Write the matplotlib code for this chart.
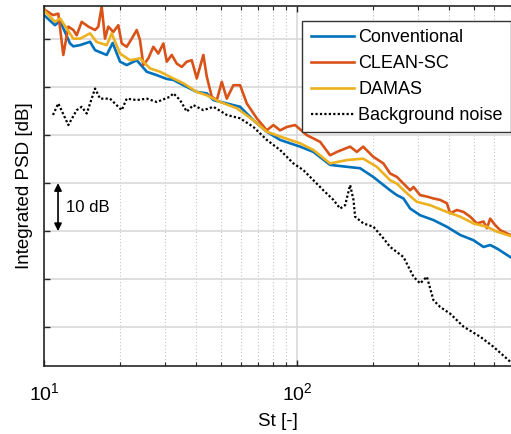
import matplotlib
matplotlib.use("Agg")
import matplotlib.pyplot as plt
from matplotlib.ticker import LogLocator, NullFormatter, FixedLocator

plt.rcParams['font.family'] = ['Liberation Sans', 'DejaVu Sans']
plt.rcParams['mathtext.fontset'] = 'custom'
plt.rcParams['mathtext.rm'] = 'Liberation Sans'

# datos (St, dB relativos)
conv_st = [10.0, 11.05, 11.57, 12.67, 13.06, 13.88, 15.20, 15.91, 17.69, 18.68, 19.97, 21.22, 23.25,
           25.47, 27.89, 30.55, 32.44, 35.53, 40.14, 43.96, 46.69, 52.74, 59.53, 67.19, 75.91, 85.66,
           102.8, 116.0, 135.0, 157.2, 177.4, 199.8, 233.1, 247.8, 263.2, 279.7, 306.3, 345.8, 390.6,
           440.9, 497.7, 545.1, 579.3, 615.5, 695.1]
conv_db = [5.0, 2.9, 3.8, -0.9, -1.5, -1.25, -0.55, -2.3, -3.3, -0.8, -4.7, -5.4, -4.4,
           -6.8, -7.5, -8.3, -8.5, -9.6, -11.0, -11.3, -12.7, -13.4, -14.1, -16.9, -19.3, -21.0,
           -22.4, -23.5, -26.2, -26.6, -26.9, -28.7, -31.5, -32.5, -33.2, -35.3, -36.7, -37.7, -39.1,
           -40.8, -41.9, -43.3, -42.9, -43.6, -45.4]

clean_st = [10.0, 10.85, 11.39, 11.92, 12.48, 13.06, 13.46, 14.09, 14.97, 15.91, 16.39, 16.90, 17.42,
            17.95, 18.79, 19.66, 20.28, 21.22, 22.22, 23.25, 23.95, 24.69, 25.84, 27.04, 28.30, 29.62,
            30.55, 31.97, 33.46, 35.02, 36.64, 38.35, 40.14, 42.62, 43.96, 46.01, 48.16, 50.40, 52.74,
            56.01, 59.53, 63.27, 69.30, 75.91, 80.60, 85.66, 91.06, 98.2, 109.2, 123.3, 135.0, 143.6,
            162.0, 172.2, 182.4, 199.8, 219.3, 233.1, 247.8, 263.2, 279.7, 288.3, 306.3, 325.6, 345.8,
            367.5, 390.6, 402.5, 427.8, 454.4, 483.0, 513.3, 545.1, 562.1, 579.3, 606.2, 634.5, 695.1]
clean_db = [6.2, 5.0, 5.3, -3.3, 2.6, 1.9, 0.8, 3.6, 2.6, 1.9, 2.6, 6.8, 0.1,
            2.6, 1.5, 2.9, -0.9, -1.6, 0.1, 1.9, -0.2, -5.4, -4.0, -1.6, -3.0, -0.9,
            -4.7, -3.3, -5.1, -5.8, -4.7, -4.4, -8.2, -3.3, -7.8, -12.0, -12.7, -8.9, -12.4,
            -9.6, -9.6, -13.4, -16.5, -19.0, -17.9, -19.0, -18.3, -17.9, -20.0, -21.4, -24.2, -23.5,
            -22.4, -23.5, -22.4, -24.5, -25.9, -28.0, -28.7, -30.1, -31.5, -30.8, -32.5, -32.8, -33.2,
            -33.5, -34.2, -36.3, -35.6, -36.0, -37.0, -38.4, -38.0, -39.4, -37.4, -38.75, -39.8, -40.8]

damas_st = [10.0, 11.05, 11.57, 13.06, 13.88, 15.20, 16.16, 17.69, 18.51, 19.97, 21.87, 23.95, 26.24,
            28.74, 32.44, 35.53, 40.14, 43.96, 49.63, 57.78, 67.19, 75.91, 85.66, 102.8, 116.0, 135.0,
            157.2, 182.4, 206.5, 233.1, 247.8, 271.4, 297.2, 335.6, 390.6, 440.9, 497.7, 562.1, 615.5, 695.1]
damas_db = [6.0, 3.6, 4.3, 0.1, 0.1, 1.2, -0.6, -1.25, 1.2, -3.0, -4.4, -4.0, -6.1,
            -6.8, -8.2, -9.2, -11.0, -11.7, -13.1, -14.4, -16.9, -19.3, -20.3, -21.7, -23.1, -25.9,
            -25.2, -24.9, -26.6, -29.4, -30.1, -32.1, -33.9, -34.6, -36.0, -37.0, -38.4, -39.1, -40.1, -41.0]

bg_st = [10.85, 11.39, 12.48, 13.46, 14.09, 14.75, 15.91, 16.65, 18.23, 20.28, 21.22, 23.25, 25.47,
         27.89, 31.48, 32.44, 34.48, 36.64, 38.91, 42.62, 46.69, 52.74, 59.53, 67.19, 75.91, 85.66,
         96.69, 105.9, 116.0, 127.0, 139.2, 147.9, 154.8, 162.0, 167.0, 169.5, 182.8, 200.3, 219.3,
         233.1, 263.2, 288.3, 306.3, 325.6, 345.8, 367.5, 402.5, 454.4, 528.9, 597.0, 695.1]
bg_db = [-15.8, -13.4, -17.9, -14.8, -14.1, -15.5, -10.3, -12.4, -12.4, -14.8, -12.4, -12.7, -12.4,
         -13.1, -12.0, -11.3, -12.7, -15.1, -13.75, -14.8, -14.1, -15.8, -16.5, -18.3, -21.0, -23.1,
         -25.9, -27.3, -29.4, -31.5, -33.5, -35.3, -34.6, -30.4, -33.5, -37.0, -38.4, -39.1, -41.5,
         -43.3, -45.4, -49.5, -50.9, -49.5, -54.4, -55.8, -57.2, -59.9, -62.0, -64.1, -67.2]

fig = plt.figure(figsize=(5.11, 4.34), dpi=100)
ax = fig.add_axes([44/511, 68/434, 467/511, 360/434])

ax.plot(conv_st, conv_db, color='#0072BD', lw=1.9, label='Conventional')
ax.plot(clean_st, clean_db, color='#D95319', lw=1.9, label='CLEAN-SC')
ax.plot(damas_st, damas_db, color='#EDB120', lw=1.9, label='DAMAS')
ax.plot(bg_st, bg_db, color='black', lw=1.6, ls=(0, (1, 1)), label='Background noise')

ax.set_xscale('log')
ax.set_xlim(10, 700)
ax.set_ylim(-68.1, 6.9)
ax.set_yticks([0, -10, -20, -30, -40, -50, -60])
ax.set_yticklabels([])
ax.xaxis.set_major_locator(FixedLocator([10, 100]))
ax.xaxis.set_minor_locator(LogLocator(base=10, subs=range(2, 10)))
ax.xaxis.set_minor_formatter(NullFormatter())

ax.grid(True, which='major', color='#d6d6d6', lw=1.1, ls='-')
ax.grid(True, which='minor', axis='x', color='#c4c4c4', lw=0.8, ls=(0, (1, 2)))
ax.set_axisbelow(True)

ax.tick_params(which='both', direction='in', top=True, colors='#262626', labelcolor='black')
ax.tick_params(which='major', length=4, width=1.0, labelsize=14, pad=12)
ax.tick_params(which='minor', length=3, width=0.8)
for s in ['left', 'bottom', 'top']:
    ax.spines[s].set_linewidth(1.2)
    ax.spines[s].set_color('#262626')
ax.spines['right'].set_visible(False)

ax.set_xlabel('St [-]', fontsize=13.5, labelpad=6)
ax.set_ylabel('Integrated PSD [dB]', fontsize=13.5)
ax.yaxis.set_label_coords(-0.024, 0.5)

# flecha de escala 10 dB
ax.annotate('', xy=(11.36, -30), xytext=(11.36, -40),
            arrowprops=dict(arrowstyle='<|-|>', color='black', lw=1.2, mutation_scale=11,
                            shrinkA=0, shrinkB=0))
ax.text(12.2, -35, '10 dB', fontsize=12, va='center', ha='left')

leg = ax.legend(loc='upper right', bbox_to_anchor=(1.0, 0.958), fontsize=13,
                frameon=True, fancybox=False, borderaxespad=0, handlelength=2.4,
                handletextpad=0.25, labelspacing=0.5, borderpad=0.45)
leg.get_frame().set_edgecolor('#333333')
leg.get_frame().set_linewidth(1.0)
leg.get_frame().set_alpha(1)

plt.savefig('out.png', dpi=100)
